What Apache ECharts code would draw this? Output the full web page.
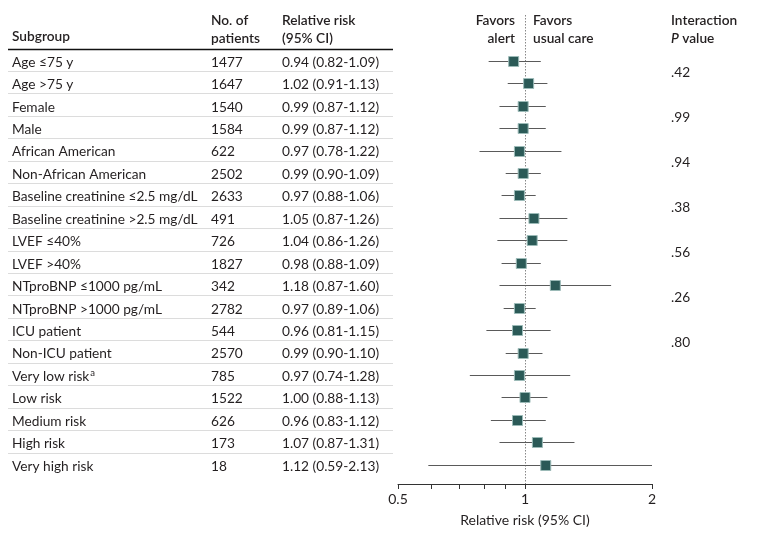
<!DOCTYPE html>
<html>
<head>
<meta charset="utf-8">
<script src="https://cdn.jsdelivr.net/npm/echarts@6/dist/echarts.min.js"></script>
<style>
html,body{margin:0;padding:0;background:#fff;}
#chart{width:780px;height:539px;}
</style>
</head>
<body>
<div id="chart"></div>
<script>
// ---- data ----
var subgroups = ['Age ≤75 y','Age >75 y','Female','Male','African American','Non-African American',
  'Baseline creatinine ≤2.5 mg/dL','Baseline creatinine >2.5 mg/dL','LVEF ≤40%','LVEF >40%',
  'NTproBNP ≤1000 pg/mL','NTproBNP >1000 pg/mL','ICU patient','Non-ICU patient',
  'Very low risk','Low risk','Medium risk','High risk','Very high risk'];
var footnoteMark = ['','','','','','','','','','','','','','','a','','','',''];
var patients = [1477,1647,1540,1584,622,2502,2633,491,726,1827,342,2782,544,2570,785,1522,626,173,18];
var rr = [0.94,1.02,0.99,0.99,0.97,0.99,0.97,1.05,1.04,0.98,1.18,0.97,0.96,0.99,0.97,1.00,0.96,1.07,1.12];
var ciLow = [0.82,0.91,0.87,0.87,0.78,0.90,0.88,0.87,0.86,0.88,0.87,0.89,0.81,0.90,0.74,0.88,0.83,0.87,0.59];
var ciHigh = [1.09,1.13,1.12,1.12,1.22,1.09,1.06,1.26,1.26,1.09,1.60,1.06,1.15,1.10,1.28,1.13,1.12,1.31,2.13];
var pValues = ['.42','.99','.94','.38','.56','.26','.80'];
var tickValues = [0.5,0.6,0.7,0.8,0.9,1,2];
var tickLabels = [0.5,1,2];
var axisMin = 0.5, axisMax = 2;

var FONT = 'Lato';
var FS = 13.7;
var TXT = '#231f20';
var fmt = function (v) { return v.toFixed(2); };

var rowData = subgroups.map(function (s, i) { return [i, rr[i], ciLow[i], ciHigh[i]]; });

var chart = echarts.init(document.getElementById('chart'), null, {renderer: 'canvas'});
var hdr = '600 ' + FS + 'px ' + FONT;
var body = FS + 'px ' + FONT;
var option = {
  animation: false,
  backgroundColor: '#fff',
  grid: {left: 398, right: 128, top: 49.5, bottom: 63, containLabel: false},
  xAxis: {
    type: 'log', logBase: 2, min: axisMin, max: axisMax, offset: 8,
    axisLine: {show: true, lineStyle: {color: '#333', width: 1}},
    axisTick: {show: true, length: 5, inside: false, customValues: tickValues, lineStyle: {color: '#333'}},
    minorTick: {show: false},
    splitLine: {show: false},
    axisLabel: {customValues: tickLabels, color: TXT, fontFamily: FONT, fontSize: 14, margin: 8,
      formatter: function (v) { return String(+v.toFixed(2)); }},
    name: 'Relative risk (95% CI)', nameLocation: 'middle', nameGap: 29,
    nameTextStyle: {color: TXT, fontFamily: FONT, fontSize: 14}
  },
  yAxis: {
    type: 'category', inverse: true, data: subgroups, boundaryGap: true,
    axisLine: {show: false}, axisTick: {show: false}, axisLabel: {show: false}, splitLine: {show: false}
  },
  graphic: [
    {type: 'line', shape: {x1: 8, y1: 49.5, x2: 393, y2: 49.5}, style: {stroke: '#111', lineWidth: 1.5}},
    {type: 'text', left: 12, top: 30, style: {text: 'Subgroup', font: hdr, fill: TXT}},
    {type: 'text', left: 211, top: 12, style: {text: 'No. of\npatients', font: hdr, fill: TXT, lineHeight: 18}},
    {type: 'text', left: 282, top: 12, style: {text: 'Relative risk\n(95% CI)', font: hdr, fill: TXT, lineHeight: 18}},
    {type: 'text', x: 515, y: 12, style: {text: 'Favors\nalert', font: hdr, fill: TXT, lineHeight: 18, align: 'right'}},
    {type: 'text', x: 533, y: 12, style: {text: 'Favors\nusual care', font: hdr, fill: TXT, lineHeight: 18, align: 'left'}},
    {type: 'text', x: 671, y: 12, style: {text: 'Interaction\n{i|P} value', font: hdr, fill: TXT, lineHeight: 18,
      rich: {i: {fontStyle: 'italic', fontWeight: 600, fontFamily: FONT, fontSize: FS, fill: TXT}}}}
  ],
  series: [
    {
      // dotted reference line at RR = 1
      type: 'custom', clip: false, z: 1,
      data: [[1]],
      encode: {x: 0},
      renderItem: function (params, api) {
        var x = Math.round(api.coord([api.value(0), 0])[0]) + 0.5;
        return {type: 'line', shape: {x1: x, y1: 15, x2: x, y2: 484},
          style: {stroke: '#888', lineWidth: 1, lineDash: [1.5, 1.5]}};
      }
    },
    {
      // table text + row separators
      type: 'custom', clip: false, z: 2,
      data: rowData,
      encode: {x: 1, y: 0},
      renderItem: function (params, api) {
        var i = api.value(0);
        var c = api.coord([1, i]);
        var band = api.size([0, 1])[1];
        var y = c[1] + 1.5;
        var children = [];
        var label = subgroups[i] + (footnoteMark[i] ? '{s|' + footnoteMark[i] + '}' : '');
        children.push({type: 'text', style: {x: 12, y: y, text: label, font: body, fill: TXT,
          verticalAlign: 'middle', rich: {s: {fontSize: 9.5, fontFamily: FONT, fill: TXT, verticalAlign: 'top', padding: [0, 0, 8, 1]}}}});
        children.push({type: 'text', style: {x: 211, y: y, text: String(patients[i]), font: body, fill: TXT, verticalAlign: 'middle'}});
        children.push({type: 'text', style: {x: 282, y: y, text: fmt(rr[i]) + ' (' + fmt(ciLow[i]) + '-' + fmt(ciHigh[i]) + ')',
          font: body, fill: TXT, verticalAlign: 'middle'}});
        if (i < subgroups.length - 1) {
          var ys = Math.round(c[1] + band / 2) - 0.5;
          children.push({type: 'line', shape: {x1: 8, y1: ys, x2: 393, y2: ys}, style: {stroke: '#dcdcdc', lineWidth: 1}});
        }
        return {type: 'group', children: children};
      }
    },
    {
      // CI whiskers + squares
      type: 'custom', clip: false, z: 3,
      data: rowData,
      encode: {x: [1, 2, 3], y: 0},
      renderItem: function (params, api) {
        var i = api.value(0);
        var hiV = Math.min(api.value(3), axisMax);
        var loV = Math.max(api.value(2), axisMin);
        var p = api.coord([api.value(1), i]);
        var l = api.coord([loV, i]);
        var h = api.coord([hiV, i]);
        var yy = Math.round(p[1]) + 0.5;
        var s = 10;
        return {type: 'group', children: [
          {type: 'line', shape: {x1: l[0], y1: yy, x2: h[0], y2: yy}, style: {stroke: '#5a5a5a', lineWidth: 1.2}},
          {type: 'rect', shape: {x: p[0] - s / 2, y: yy - s / 2, width: s, height: s},
            style: {fill: '#2b5a57', stroke: '#9bbab7', lineWidth: 1}}
        ]};
      }
    },
    {
      // interaction P values between paired rows
      type: 'custom', clip: false, z: 2,
      data: pValues.map(function (p, k) { return [k]; }),
      encode: {y: 0},
      renderItem: function (params, api) {
        var k = api.value(0);
        var a = api.coord([1, 2 * k])[1];
        var b = api.coord([1, 2 * k + 1])[1];
        return {type: 'text', style: {x: 671, y: (a + b) / 2 + 1, text: pValues[k], font: body, fill: TXT, verticalAlign: 'middle'}};
      }
    }
  ]
};
chart.setOption(option);
</script>
</body>
</html>
